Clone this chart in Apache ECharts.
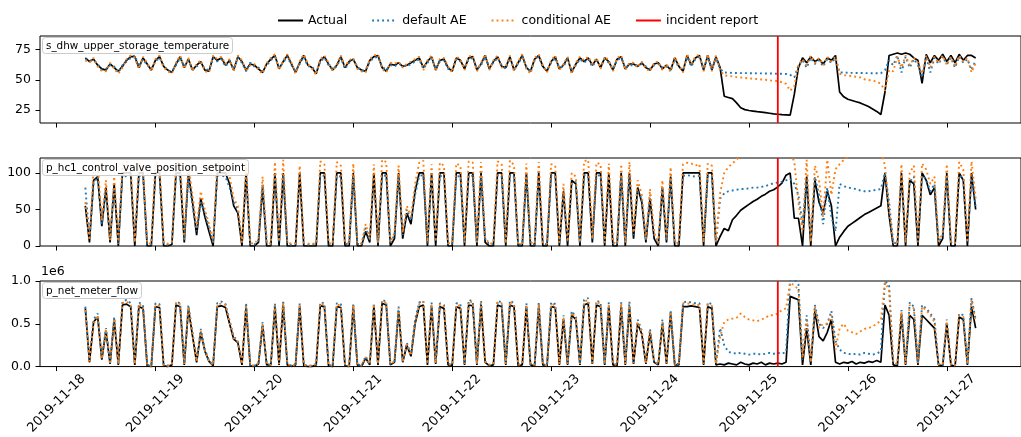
<!DOCTYPE html>
<html><head><meta charset="utf-8">
<script src="https://cdn.jsdelivr.net/npm/echarts@6/dist/echarts.min.js"></script>
<style>html,body{margin:0;padding:0;background:#fff}#c{width:1021px;height:437px}</style>
</head><body><div id="c"></div>
<script>
// hourly samples, first sample at 2019-11-18 07:00 (hours counted from 2019-11-18 00:00)
const firstHour = 7;
const tickHours = [0, 24, 48, 72, 96, 120, 144, 168, 192, 216];
const tickLabels = ['2019-11-18','2019-11-19','2019-11-20','2019-11-21','2019-11-22','2019-11-23','2019-11-24','2019-11-25','2019-11-26','2019-11-27'];
const incidentHour = 175;
const seriesNames = ['Actual', 'default AE', 'conditional AE', 'incident report'];
const panelNames = ['s_dhw_upper_storage_temperature', 'p_hc1_control_valve_position_setpoint', 'p_net_meter_flow'];
const panelTicks = [[25, 50, 75], [0, 50, 100], [0, 0.5, 1.0]];

// panel 1: s_dhw_upper_storage_temperature
const tempActual = [
 68,65,67,62,59,58,63,60,57,61,66,69,69,60,68,63,58,
 66,69,61,58,56,63,69,60,67,58,62,65,58,57,69,66,68,62,66,58,69,65,58,63,
 62,59,56,63,67,70,59,65,70,63,56,64,70,62,60,55,66,69,63,58,62,69,60,65,
 67,60,58,57,66,69,70,60,57,63,62,64,61,62,64,66,68,60,65,69,58,66,67,60,
 57,68,66,59,68,69,58,63,70,59,65,69,61,60,69,58,64,70,60,57,67,70,61,57,
 65,69,59,62,68,56,63,68,65,68,62,67,60,68,65,58,67,69,59,63,63,61,64,60,
 58,63,64,59,62,58,68,61,57,70,62,68,70,58,70,58,69,60,36.5,35.5,34.5,31,27,25.5,
 24.8,24.3,23.8,23.5,23,22.5,22,21.7,21.4,21.2,21,38,60,68,64,69,65,67,63,68,66,70,40,36,
 34,33,32,31,29.5,28,26,24,21.5,40,70,71,72,71,72,71,68,66,47,71,64,70,66,71,
 65,70,64,71,66,70,70,68
];
const tempDefaultAE = [
 67,66,66,63,58,59,62,61,56,62,65,68,70,61,67,62,59,
 65,68,62,57,57,62,68,61,66,59,61,64,59,58,68,65,67,61,65,59,68,64,57,64,
 61,60,57,62,66,69,60,64,69,62,57,63,69,61,61,56,65,68,62,59,61,68,59,64,
 66,61,57,58,65,68,69,61,58,62,61,63,62,61,63,65,67,59,64,68,59,65,66,59,
 58,67,65,60,67,68,59,62,69,60,64,68,62,59,68,59,63,69,61,56,66,69,60,58,
 64,68,60,61,67,57,62,67,64,67,61,66,61,67,64,59,66,68,60,62,62,62,63,61,
 59,62,63,60,61,57,67,60,58,69,61,67,69,59,69,59,68,59,56,55.8,55.7,55.6,55.5,55.5,
 55.4,55.4,55.3,55.3,55.2,55.2,55.1,55,55,54.8,54,52,62,66,60,68,63,66,61,67,64,68,56,56,
 55.8,55.7,55.6,55.6,55.5,55.5,55.4,55.4,55.3,58,66,62,70,56,69,60,67,62,52,69,56,68,63,69,
 63,68,60,69,64,67,58,66
];
const tempConditionalAE = [
 66,64,68,61,57,57,64,59,55,60,67,70,68,59,69,64,57,
 67,70,60,57,55,64,70,59,68,57,63,66,57,56,70,67,69,63,67,57,70,66,57,62,
 63,58,55,64,68,71,58,66,71,64,55,65,71,63,59,54,67,70,64,57,63,70,61,66,
 68,59,57,56,67,70,71,59,56,64,63,65,60,63,65,67,69,58,66,70,57,67,68,61,
 56,69,67,58,69,70,57,64,71,58,66,70,60,61,70,57,65,71,59,55,68,71,62,56,
 66,70,58,63,69,55,64,69,66,69,63,68,59,69,66,57,68,70,58,64,64,60,65,59,
 57,64,65,58,63,57,69,62,56,71,63,69,71,57,71,57,70,58,53.6,53.2,52.8,52.2,51.9,51.5,
 51.2,50.9,50.6,50.3,50,49.6,49.2,48.9,48,46.7,41,45,62,67,62,70,64,68,62,69,65,69,55,53.8,
 53.5,53,52.5,52,50.5,49.8,49.4,48.5,46.7,41,58,57,69,60,70,62,68,64,55,70,60,69,64,70,
 62,69,61,70,65,68,56,64
];

// panel 2: p_hc1_control_valve_position_setpoint
const valveActual = [
 55,5,90,95,27,80,5,85,0,100,100,100,0,100,100,0,0,
 100,100,0,0,2,100,100,5,100,60,15,65,40,20,0,100,100,100,85,55,45,0,100,0,
 0,5,80,0,0,100,0,100,0,0,0,100,0,0,0,0,100,100,0,0,100,100,0,0,
 100,0,0,20,5,100,0,100,100,0,10,100,10,45,30,75,100,100,0,100,0,100,100,0,
 0,100,100,0,100,100,0,100,5,0,0,100,100,0,100,100,0,0,100,0,0,100,0,0,
 100,100,0,75,0,90,85,0,100,100,5,100,100,0,100,0,0,100,0,100,10,80,60,5,
 65,10,0,80,5,95,0,0,100,100,100,100,100,0,100,100,0,13,24,21,36,42,49,53,
 57,61,64,68,71,75,77,81,86,97,100,38,38,0,95,0,90,60,45,75,55,0,12,20,
 27,31,35,39,43,46,49,52,55,100,42,0,0,100,0,90,85,0,100,90,70,80,0,10,
 100,0,0,100,90,0,100,50
];
const valveDefaultAE = [
 80,10,85,95,30,75,10,80,5,98,95,97,5,96,95,3,2,
 97,95,3,2,5,96,97,8,95,55,20,60,45,25,5,97,96,95,80,60,50,5,96,3,
 2,8,85,5,2,97,5,96,3,2,3,96,4,2,2,3,97,96,3,2,96,95,3,2,
 96,3,2,25,8,95,4,97,96,4,15,95,15,50,35,70,96,97,4,95,5,96,95,3,
 3,96,95,4,97,96,4,97,10,2,3,97,96,3,97,95,2,3,95,4,2,96,4,2,
 96,95,4,70,5,85,88,4,97,96,8,96,97,4,96,4,2,95,4,96,15,75,65,8,
 70,15,3,78,8,92,4,3,96,97,96,95,96,4,95,96,5,65,72,75,76,77,78,78,
 79,80,80,81,82,84,86,87,88,90,92,85,70,30,90,10,95,70,30,80,40,20,85,82,
 80,79,78,76,75,75,76,77,78,100,60,5,3,95,4,88,95,5,96,92,75,85,5,15,
 95,5,3,97,92,4,96,55
];
const valveConditionalAE = [
 60,8,105,110,35,90,8,95,3,112,115,110,5,113,108,4,3,
 115,110,5,3,6,112,116,10,110,70,25,75,50,30,5,113,118,112,95,65,55,5,112,4,
 3,10,95,6,3,115,6,118,5,3,4,110,5,3,3,4,116,112,4,3,115,110,5,3,
 113,4,3,30,10,112,5,118,115,5,18,110,18,55,40,85,114,117,5,112,6,114,110,4,
 4,113,110,5,116,114,5,115,12,3,4,116,112,4,117,111,3,4,113,5,3,115,5,3,
 112,110,5,85,6,100,95,5,116,118,10,114,112,5,113,5,3,112,5,115,18,90,70,10,
 78,18,4,90,10,108,5,4,112,114,113,110,112,5,113,110,6,72,100,108,113,118,125,130,
 130,130,130,130,130,130,130,130,130,130,130,115,60,20,118,5,110,90,40,118,70,105,112,118,
 122,130,130,130,130,130,130,130,130,110,50,5,4,112,5,100,110,6,113,105,85,95,6,18,
 112,6,4,115,105,5,116,65
];

// panel 3: p_net_meter_flow (in units of 1e6)
const flowActual = [
 .68,.05,.52,.58,.08,.42,.03,.55,.02,.72,.73,.70,.02,.70,.68,.01,0,
 .70,.69,.01,0,.02,.72,.70,.02,.68,.36,.05,.40,.18,.06,.01,.70,.71,.69,.50,.32,.28,.02,.70,.01,
 0,.03,.48,.02,.02,.70,.02,.72,.02,0,.02,.70,.01,0,0,.02,.71,.70,.01,0,.70,.69,.01,0,
 .70,.02,0,.10,.02,.70,.02,.74,.72,.02,.05,.65,.05,.25,.12,.50,.70,.72,.02,.70,.03,.70,.68,.02,
 .01,.70,.68,.02,.72,.71,.02,.72,.05,.01,.02,.72,.70,.02,.72,.70,.01,.02,.70,.02,.01,.70,.02,0,
 .70,.69,.02,.55,.02,.60,.55,.02,.72,.74,.03,.72,.70,.02,.70,.02,.01,.70,.02,.70,.03,.50,.38,.03,
 .40,.05,.02,.50,.03,.62,.02,.02,.70,.70,.71,.70,.69,.02,.70,.68,.02,.03,.02,.04,.03,.02,.05,.03,
 .02,.04,.03,.05,.02,.04,.03,.04,.03,.05,.82,.80,.78,.02,.45,.02,.65,.35,.30,.40,.55,.05,.03,.05,
 .04,.06,.03,.05,.04,.06,.05,.07,.05,.72,.60,.02,.01,.60,.02,.60,.55,.02,.60,.55,.50,.45,.02,.01,
 .50,.02,0,.58,.55,.02,.70,.45
];
const flowDefaultAE = [
 .70,.08,.55,.62,.10,.45,.04,.58,.03,.76,.78,.74,.03,.75,.72,.02,.01,
 .74,.73,.02,.01,.03,.76,.74,.03,.72,.40,.07,.44,.20,.07,.02,.74,.76,.73,.54,.35,.30,.03,.74,.02,
 .01,.04,.52,.03,.02,.74,.03,.77,.03,.01,.03,.74,.02,.01,.01,.03,.75,.74,.02,.01,.74,.73,.02,.01,
 .74,.03,.01,.12,.03,.74,.03,.78,.76,.03,.06,.70,.06,.28,.14,.55,.75,.77,.03,.75,.04,.74,.72,.03,
 .02,.74,.73,.03,.78,.76,.03,.77,.06,.02,.03,.77,.75,.03,.77,.74,.02,.03,.74,.03,.02,.75,.03,.01,
 .75,.73,.03,.60,.03,.65,.58,.03,.78,.80,.04,.77,.75,.03,.75,.03,.02,.75,.03,.76,.04,.55,.42,.04,
 .44,.06,.03,.55,.04,.66,.03,.03,.75,.76,.75,.74,.74,.03,.75,.73,.03,.45,.25,.17,.16,.15,.16,.15,
 .14,.15,.15,.14,.15,.16,.15,.16,.15,.17,1.05,1.02,.96,.08,.60,.05,.72,.50,.45,.50,.65,.30,.20,.16,
 .15,.14,.15,.14,.16,.15,.14,.15,.18,1.0,.95,.05,.03,.66,.03,.75,.70,.04,.72,.68,.62,.55,.03,.02,
 .55,.03,.01,.62,.60,.03,.80,.55
];
const flowConditionalAE = [
 .66,.06,.50,.60,.09,.44,.03,.56,.03,.74,.76,.72,.03,.73,.70,.02,.01,
 .72,.71,.02,.01,.02,.75,.73,.03,.70,.38,.06,.42,.19,.07,.02,.72,.74,.72,.52,.33,.29,.03,.72,.02,
 .01,.04,.50,.03,.02,.72,.03,.75,.03,.01,.02,.73,.02,.01,.01,.03,.74,.72,.02,.01,.73,.71,.02,.01,
 .72,.03,.01,.11,.03,.73,.03,.77,.74,.03,.06,.68,.06,.26,.13,.52,.73,.76,.03,.73,.04,.73,.70,.03,
 .02,.72,.71,.03,.76,.75,.03,.75,.06,.02,.03,.75,.74,.03,.76,.72,.02,.03,.72,.03,.02,.73,.03,.01,
 .73,.72,.03,.58,.03,.63,.57,.03,.76,.78,.04,.76,.73,.03,.73,.03,.02,.74,.03,.74,.04,.52,.40,.04,
 .42,.06,.03,.52,.04,.64,.03,.03,.74,.74,.73,.72,.72,.03,.73,.71,.03,.35,.52,.55,.56,.57,.62,.58,
 .55,.54,.53,.55,.57,.60,.60,.62,.66,.68,.98,.95,.90,.10,.55,.05,.70,.45,.50,.50,.60,.20,.45,.50,
 .42,.40,.38,.41,.44,.45,.47,.50,.54,.98,.90,.05,.03,.64,.03,.72,.68,.04,.70,.66,.60,.52,.03,.02,
 .53,.03,.01,.60,.58,.03,.78,.52
];

const panels = [
  {actual: tempActual, def: tempDefaultAE, cond: tempConditionalAE, min: 14.5, max: 86, top: 36, height: 87},
  {actual: valveActual, def: valveDefaultAE, cond: valveConditionalAE, min: 0, max: 120.5, top: 158, height: 88},
  {actual: flowActual, def: flowDefaultAE, cond: flowConditionalAE, min: 0, max: 1.0, top: 281, height: 87}
];
const FONT = 'DejaVu Sans';
const toPairs = arr => arr.map((v, i) => [firstHour + i, v]);

const grid = [], xAxis = [], yAxis = [], series = [];
const title = [];
panels.forEach((p, i) => {
  grid.push({left: 40, width: 992, top: p.top, height: p.height, show: true,
    borderColor: '#000', borderWidth: 1, backgroundColor: 'transparent'});
  xAxis.push({type: 'value', gridIndex: i, min: -4, max: 234,
    axisLine: {show: false, onZero: false}, splitLine: {show: false},
    axisTick: {show: true, customValues: tickHours, length: 4.5, lineStyle: {color: '#000', width: 1}},
    axisLabel: {show: i === 2, customValues: tickHours, rotate: 45, align: 'center', verticalAlign: 'middle',
      margin: 37, fontSize: 13, fontFamily: FONT, color: '#000',
      formatter: v => tickLabels[Math.round(v / 24)]}
  });
  yAxis.push({type: 'value', gridIndex: i, min: p.min, max: p.max,
    axisLine: {show: false, onZero: false}, splitLine: {show: false},
    axisTick: {show: true, customValues: panelTicks[i], length: 4.5, lineStyle: {color: '#000', width: 1}},
    axisLabel: {customValues: panelTicks[i], margin: 9, fontSize: 12.5, fontFamily: FONT, color: '#000',
      formatter: v => i === 2 ? v.toFixed(1) : String(v)}
  });
  const common = {type: 'line', xAxisIndex: i, yAxisIndex: i, symbol: 'none', showSymbol: false, animation: false, clip: true};
  series.push(Object.assign({}, common, {name: seriesNames[0], data: toPairs(p.actual), z: 2,
    lineStyle: {color: '#000', width: 1.7}, itemStyle: {color: '#000'}}));
  series.push(Object.assign({}, common, {name: seriesNames[1], data: toPairs(p.def), z: 3,
    lineStyle: {color: '#1f77b4', width: 1.9, type: [1.9, 3.1], cap: 'butt'}, itemStyle: {color: '#1f77b4'}}));
  series.push(Object.assign({}, common, {name: seriesNames[2], data: toPairs(p.cond), z: 4,
    lineStyle: {color: '#ff7f0e', width: 1.9, type: [1.9, 3.1], cap: 'butt'}, itemStyle: {color: '#ff7f0e'}}));
  series.push(Object.assign({}, common, {name: seriesNames[3], data: [[incidentHour, p.min], [incidentHour, p.max]], z: 5,
    lineStyle: {color: '#ff0000', width: 1.8}, itemStyle: {color: '#ff0000'}}));
  title.push({text: panelNames[i], left: 42, top: p.top + 1,
    backgroundColor: 'rgba(255,255,255,0.85)', borderColor: '#cccccc', borderWidth: 1, borderRadius: 3,
    padding: [3, 4, 2, 4],
    textStyle: {fontSize: 10.4, fontWeight: 'normal', fontFamily: FONT, color: '#000', lineHeight: 12}});
});
title.push({text: '1e6', left: 41, top: 265, padding: 0,
  textStyle: {fontSize: 12.5, fontWeight: 'normal', fontFamily: FONT, color: '#000'}});

const chart = echarts.init(document.getElementById('c'), null, {renderer: 'canvas'});
chart.setOption({
  animation: false,
  backgroundColor: '#fff',
  title: title,
  legend: {data: seriesNames, left: 272, top: 9, itemWidth: 25, itemHeight: 12, itemGap: 24,
    itemStyle: {opacity: 0, color: 'transparent', borderWidth: 0},
    textStyle: {fontSize: 12.5, fontFamily: FONT, color: '#000'}},
  grid: grid, xAxis: xAxis, yAxis: yAxis, series: series
});
</script>
</body></html>
